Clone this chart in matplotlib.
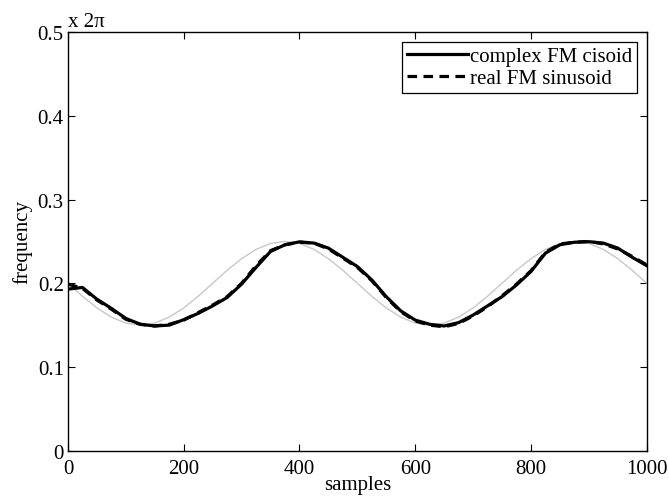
import numpy as np
from matplotlib import pyplot as plt

# samples axis for all curves
samples = list(range(0, 1001, 25))

# thin grey reference (true instantaneous frequency)
true_freq = [0.2, 0.1845, 0.1706, 0.1595, 0.1524, 0.15, 0.1524, 0.1595, 0.1706, 0.1845,
             0.2, 0.2155, 0.2294, 0.2405, 0.2476, 0.25, 0.2476, 0.2405, 0.2294, 0.2155,
             0.2, 0.1845, 0.1706, 0.1595, 0.1524, 0.15, 0.1524, 0.1595, 0.1706, 0.1845,
             0.2, 0.2155, 0.2294, 0.2405, 0.2476, 0.25, 0.2476, 0.2405, 0.2294, 0.2155,
             0.2]

# estimate from complex FM cisoid
complex_est = [0.193, 0.195, 0.181, 0.170, 0.158, 0.151, 0.149, 0.150, 0.1565, 0.164,
               0.173, 0.183, 0.199, 0.219, 0.238, 0.246, 0.2495, 0.248, 0.242, 0.231,
               0.220, 0.204, 0.184, 0.167, 0.156, 0.151, 0.149, 0.153, 0.162, 0.173,
               0.184, 0.198, 0.214, 0.236, 0.246, 0.249, 0.2497, 0.248, 0.242, 0.231,
               0.221]

# estimate from real FM sinusoid
real_est = [0.199, 0.194, 0.180, 0.169, 0.157, 0.151, 0.149, 0.151, 0.156, 0.165,
            0.174, 0.184, 0.200, 0.221, 0.239, 0.246, 0.249, 0.248, 0.241, 0.230,
            0.219, 0.203, 0.183, 0.166, 0.155, 0.150, 0.148, 0.152, 0.161, 0.172,
            0.185, 0.199, 0.215, 0.237, 0.247, 0.249, 0.250, 0.247, 0.241, 0.232,
            0.222]

plt.rcParams['font.family'] = ['Liberation Serif', 'DejaVu Serif']
plt.rcParams['font.size'] = 15
plt.rcParams['mathtext.fontset'] = 'stix'

fig = plt.figure(figsize=(6.69, 5.02), dpi=100)
ax = fig.add_axes([0.1016, 0.1002, 0.8651, 0.8338])

ax.plot(samples, true_freq, color='#c8c8c8', linewidth=1.0)
l1, = ax.plot(samples, complex_est, color='k', linewidth=2.3)
l2, = ax.plot(samples, real_est, color='k', linewidth=2.3, linestyle=(0, (3, 2)))

ax.set_xlim(0, 1000)
ax.set_ylim(0, 0.5)
ax.set_xticks([0, 200, 400, 600, 800, 1000])
ax.set_yticks([0, 0.1, 0.2, 0.3, 0.4, 0.5])
ax.set_yticklabels(['0', '0.1', '0.2', '0.3', '0.4', '0.5'])
ax.tick_params(direction='in', length=5, width=0.8, top=True, right=True)
ax.tick_params(axis='x', pad=6)
ax.tick_params(axis='y', pad=3)
for s in ax.spines.values():
    s.set_linewidth(1.0)

ax.set_xlabel('samples', labelpad=-2)
ax.set_ylabel('frequency', labelpad=4)
ax.text(0, 1.002, 'x 2\u03c0', transform=ax.transAxes, ha='left', va='bottom')

leg = ax.legend([l1, l2], ['complex FM cisoid', 'real FM sinusoid'], loc='upper right',
                fancybox=False, edgecolor='k', framealpha=1, handlelength=2.9,
                handletextpad=0.1, borderpad=0.25, labelspacing=0.1,
                borderaxespad=0.45)
leg.get_frame().set_linewidth(0.9)

fig.savefig('out.png', dpi=100)
